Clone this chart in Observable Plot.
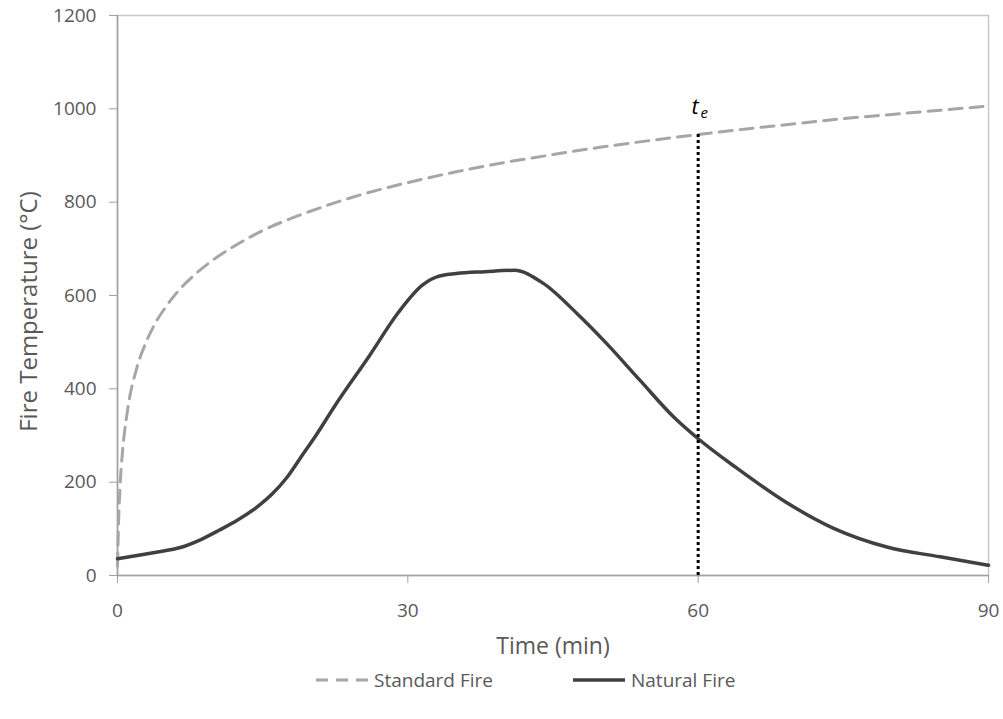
<!DOCTYPE html>
<html>
<head>
<meta charset="utf-8">
<script src="https://cdn.jsdelivr.net/npm/d3@7"></script>
<script src="https://cdn.jsdelivr.net/npm/@observablehq/plot@0.6"></script>
<style>
  html, body { margin: 0; padding: 0; background: #fff; }
  body { width: 1003px; height: 719px; overflow: hidden; font-family: "Open Sans", sans-serif; }
  #chart svg { display: block; }
  #legend { position: relative; height: 40px; color: #595959; font-size: 19px; }
  .item { position: absolute; top: 0; height: 40px; display: flex; align-items: center; white-space: nowrap; }
  .item svg { margin-right: 6px; }
</style>
</head>
<body>
<div id="chart"></div>
<div id="legend"></div>
<script>
// Standard (ISO) fire curve: time in minutes, gas temperature in °C
const stdTime = [0, 0.1, 0.25, 0.5, 1, 2, 3, 4, 5, 6, 8, 10, 12, 15, 20, 25, 30, 35, 40, 45, 50, 55, 60, 65, 70, 75, 80, 85, 90];
const stdTemp = [20, 108, 185, 261, 349, 445, 502, 544, 576, 603, 645, 678, 705, 739, 781, 815, 842, 865, 885, 902, 918, 932, 945, 957, 968, 979, 988, 997, 1006];

// Natural (parametric) fire curve
const natTime = [0, 4, 6.5, 8.5, 10.5, 12.5, 14.5, 16, 17.5, 19, 20.5, 22.5, 26, 29, 31.5, 33, 35, 38, 41, 44, 47.5, 50.5, 54, 57.5, 60, 64, 69, 74, 79.5, 85, 90];
const natTemp = [36, 50, 60, 76, 97, 120, 148, 175, 210, 255, 300, 365, 470, 563, 622, 640, 647, 651, 654, 626, 561, 498, 418, 339, 293, 230, 158, 101, 61, 40, 22];

// Equivalent time of fire exposure
const teTime = 60;
const teTemp = 945;

const xTicks = [0, 30, 60, 90];
const yTicks = [0, 200, 400, 600, 800, 1000, 1200];

const seriesNames = ["Standard Fire", "Natural Fire"];
const xLabel = "Time (min)";
const yLabel = "Fire Temperature (°C)";

const standard = stdTime.map((t, i) => ({t, T: stdTemp[i]}));
const natural = natTime.map((t, i) => ({t, T: natTemp[i]}));

const axisColor = "#a0a0a0";
const textColor = "#595959";
const stdColor = "#a6a6a6";
const natColor = "#404040";

const chart = Plot.plot({
  width: 1003,
  height: 660,
  marginLeft: 117,
  marginRight: 15,
  marginTop: 15,
  marginBottom: 85,
  style: {fontFamily: "Open Sans, sans-serif", fontSize: "19px", color: textColor, background: "#fff"},
  x: {domain: [0, 90]},
  y: {domain: [0, 1200]},
  marks: [
    Plot.frame({stroke: "#c8c8c8", strokeWidth: 1.5}),
    Plot.ruleX([0], {stroke: axisColor, strokeWidth: 1.5}),
    Plot.ruleY([0], {stroke: axisColor, strokeWidth: 1.5}),
    Plot.axisY({ticks: yTicks, tickSize: 8, tickPadding: 13, tickFormat: d => String(d),
                stroke: axisColor, fill: textColor, label: null, fontSize: 19}),
    Plot.axisX({ticks: xTicks, tickSize: 8, tickPadding: 20, tickFormat: d => String(d),
                stroke: axisColor, fill: textColor, label: null, fontSize: 19}),
    Plot.text([yLabel], {frameAnchor: "left", textAnchor: "middle", dx: -88, dy: 16, rotate: -90, fill: textColor, fontSize: 24}),
    Plot.text([xLabel], {frameAnchor: "bottom", textAnchor: "middle", dy: 78, fill: textColor, fontSize: 23}),
    Plot.line(standard, {x: "t", y: "T", stroke: stdColor, strokeWidth: 3, strokeDasharray: "13,8", curve: "monotone-x"}),
    Plot.line(natural, {x: "t", y: "T", stroke: natColor, strokeWidth: 3.5, curve: "monotone-x"}),
    Plot.ruleX([teTime], {y1: 0, y2: teTemp, stroke: "#000", strokeWidth: 3, strokeDasharray: "3,3"}),
    Plot.text([teTime], {x: d => d, y: teTemp, text: () => "t", dy: -28, dx: -3, fontStyle: "italic", fontSize: 22, fill: "#000"}),
    Plot.text([teTime], {x: d => d, y: teTemp, text: () => "e", dy: -21, dx: 6, fontStyle: "italic", fontSize: 15, fill: "#000"})
  ]
});
document.getElementById("chart").appendChild(chart);

// Legend below the chart
const legend = d3.select("#legend");
const styles = [
  {stroke: stdColor, dash: "12,8", width: 3, left: 316},
  {stroke: natColor, dash: null, width: 3.5, left: 573}
];
seriesNames.forEach((name, i) => {
  const item = legend.append("div").attr("class", "item").style("left", styles[i].left + "px");
  const s = item.append("svg").attr("width", 52).attr("height", 12);
  s.append("line").attr("x1", 0).attr("x2", 52).attr("y1", 6).attr("y2", 6)
    .attr("stroke", styles[i].stroke).attr("stroke-width", styles[i].width)
    .attr("stroke-dasharray", styles[i].dash);
  item.append("span").text(name);
});
</script>
</body>
</html>
